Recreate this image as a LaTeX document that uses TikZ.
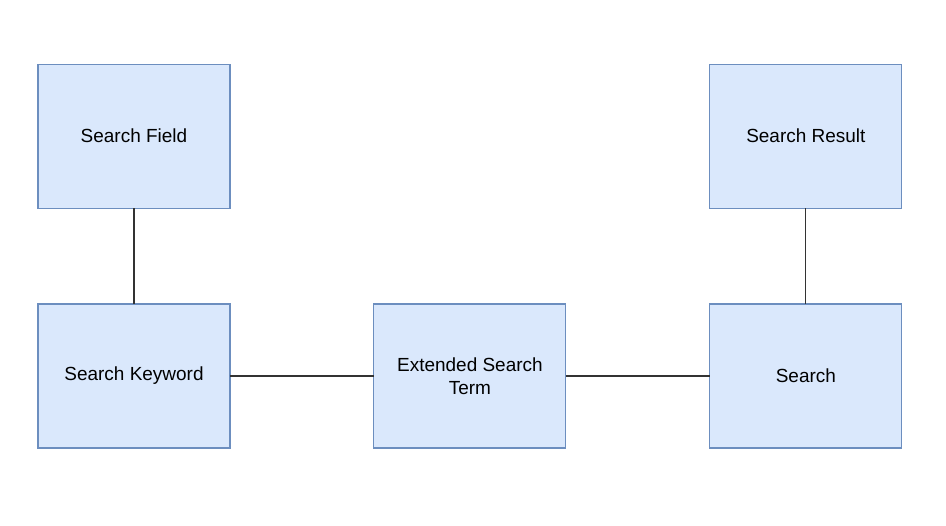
\documentclass[tikz,border=0pt]{standalone}
\usepackage{fontspec}
\setmainfont{Liberation Sans}
\usetikzlibrary{positioning}
\definecolor{boxfill}{HTML}{DAE8FC}
\definecolor{boxline}{HTML}{6C8EBF}

\begin{document}
\begin{tikzpicture}[x=0.02cm,y=-0.02cm,font=\fontsize{10.8}{13}\selectfont]
            \tikzstyle{box}=[rectangle,draw=boxline,fill=boxfill,line width=0.6pt,outer sep=0pt,minimum width=3.84cm,minimum height=2.88cm,align=center,inner sep=0pt]
            \tikzstyle{link}=[draw=black!80,line width=0.6pt]
            \useasboundingbox (0,0) rectangle (946,525);
            \node(keyword)[box] at (134,376) {Search Keyword};
            \node(term)[box,right=2.88cm of keyword] {Extended Search\\Term};
            \node(search)[box,right=2.88cm of term] {Search};
            \node(field)[box,above=1.92cm of keyword] {Search Field};
            \node(result)[box,above=1.92cm of search] {Search Result};
            \draw[link] (field) -- (keyword);
            \draw[link] (keyword) -- (term);
            \draw[link] (term) -- (search);
            \draw[link] (result) -- (search);
          \end{tikzpicture}
\end{document}
